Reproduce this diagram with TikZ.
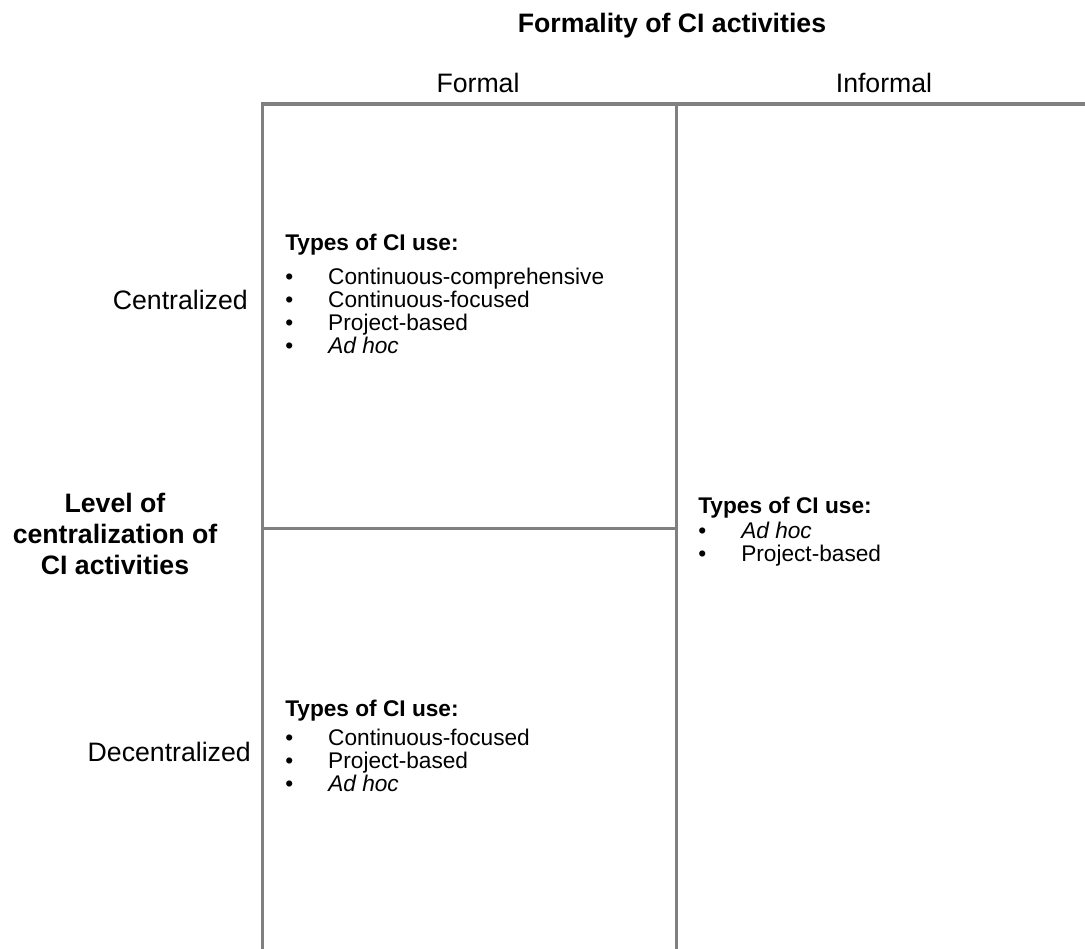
\documentclass[tikz,border=0pt]{standalone}
\usepackage{fontspec}
\setmainfont{Liberation Sans}
\definecolor{rulegray}{RGB}{128,128,128}
\newcommand\boxfont{\fontsize{17}{16.6}\selectfont}
\newcommand\headfont{\fontsize{20}{23.5}\selectfont}
% a bulleted list headed by a bold caption; #1 = extra gap below the caption
\newcommand\cilist[2]{\begin{tabular}[t]{@{}p{32.25pt}@{}l@{}}
  \multicolumn{2}{@{}l@{}}{\bfseries Types of CI use:}\\[#1]
  #2
  \end{tabular}}
\begin{document}
\begin{tikzpicture}[x=0.75pt,y=-0.75pt,
  gridline/.style={draw=rulegray,line width=2.25pt,line join=miter},
  head/.style={inner sep=0pt,font=\headfont},
  blocktext/.style={inner sep=0pt,font=\boxfont,anchor=base west}]
\useasboundingbox (0,0) rectangle (1085,949);

% grid corners
\coordinate (tl) at (262,104);
\coordinate (tm) at (676,104);
\coordinate (tr) at (1085,104);
\coordinate (bl) at (262,949);
\coordinate (bm) at (676,949);
\coordinate (ml) at (262,528);
\coordinate (mm) at (676,528);

% grid lines
\draw[gridline] (bl) -- (tl) -- (tr);
\draw[gridline] (tm) -- (bm);
\draw[gridline] (ml) -- (mm);

% axis headings
\node[head,anchor=base] (title) at (672,33) {\bfseries Formality of CI activities};
\node[head,anchor=base] (formal) at (478,93) {Formal};
\node[head,anchor=base] (informal) at (884,93) {Informal};
\node[head,anchor=base east] (central) at (248,309) {Centralized};
\node[head,anchor=base east] (decentral) at (251,761) {Decentralized};
\node[head,anchor=base] (level) at (115,512)
  {\bfseries\begin{tabular}[t]{@{}c@{}}Level of\\centralization of\\CI activities\end{tabular}};

% cell contents
\node[blocktext] (cellA) at (285,250)
  {\cilist{8.5pt}{%
   \textbullet & Continuous-comprehensive\\
   \textbullet & Continuous-focused\\
   \textbullet & Project-based\\
   \textbullet & \itshape Ad hoc}};
\node[blocktext] (cellB) at (285,716)
  {\cilist{5pt}{%
   \textbullet & Continuous-focused\\
   \textbullet & Project-based\\
   \textbullet & \itshape Ad hoc}};
\node[blocktext] (cellC) at (698,513)
  {\cilist{2pt}{%
   \textbullet & \itshape Ad hoc\\
   \textbullet & Project-based}};
\end{tikzpicture}
\end{document}
